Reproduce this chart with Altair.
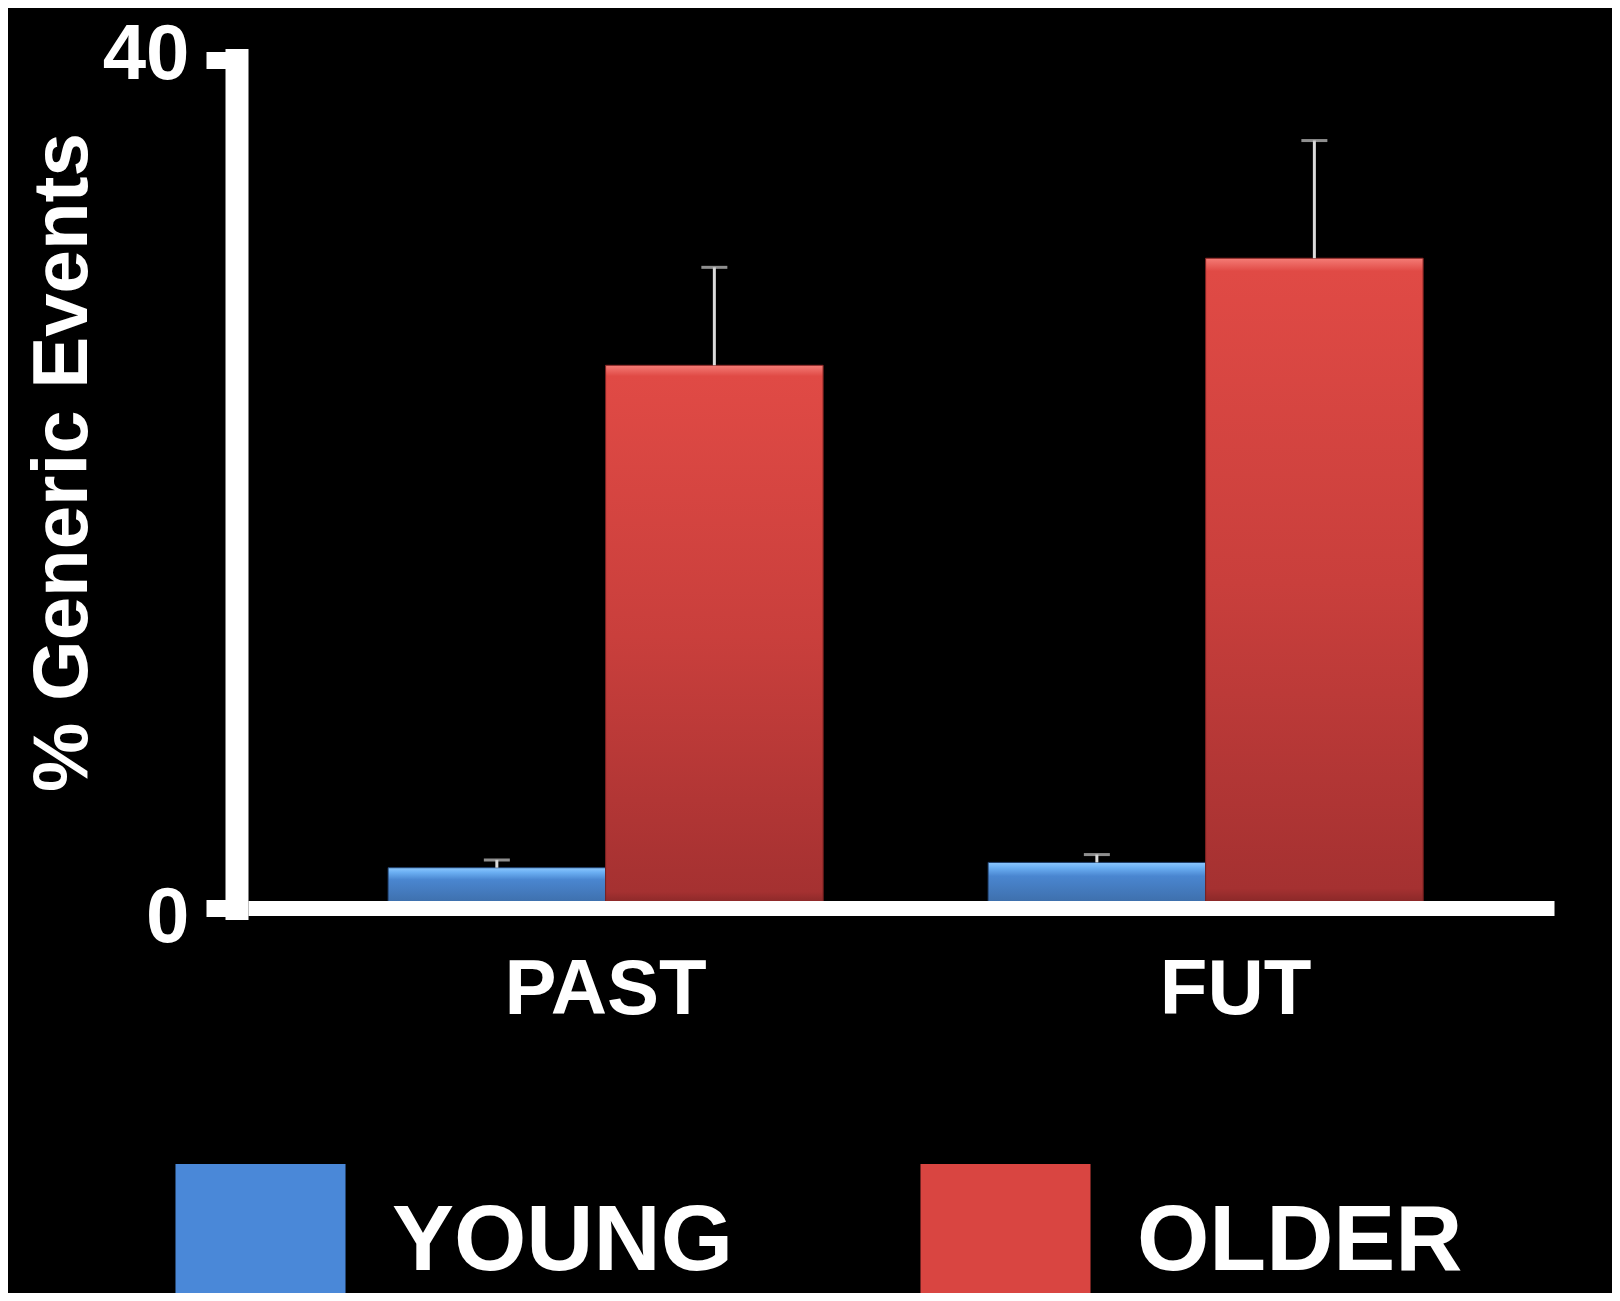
import altair as alt
import pandas as pd

# ---- data ----
periods = ["PAST", "PAST", "FUT", "FUT"]
ages = ["YOUNG", "OLDER", "YOUNG", "OLDER"]
means = [1.9, 25.6, 2.15, 30.65]
sems = [0.37, 4.62, 0.37, 5.55]
period_order = ["PAST", "FUT"]
age_order = ["YOUNG", "OLDER"]
y_ticks = [0, 40]

df = pd.DataFrame({"period": periods, "age": ages, "mean": means, "sem": sems})
df["upper"] = df["mean"] + df["sem"]

FONT = "Liberation Sans"

blue_grad = alt.Gradient(
    gradient="linear", x1=0, x2=0, y1=0, y2=1,
    stops=[alt.GradientStop(offset=0, color="#8cc8ff"),
           alt.GradientStop(offset=0.12, color="#6aaef2"),
           alt.GradientStop(offset=0.3, color="#4a86d0"),
           alt.GradientStop(offset=0.9, color="#3d6eaa"),
           alt.GradientStop(offset=1, color="#2c5283")])
red_grad = alt.Gradient(
    gradient="linear", x1=0, x2=0, y1=0, y2=1,
    stops=[alt.GradientStop(offset=0, color="#f47c76"),
           alt.GradientStop(offset=0.02, color="#e04a45"),
           alt.GradientStop(offset=0.5, color="#c93f3c"),
           alt.GradientStop(offset=0.97, color="#a53131"),
           alt.GradientStop(offset=1, color="#7e2424")])

x_enc = alt.X(
    "period:N", sort=period_order,
    scale=alt.Scale(paddingInner=0.275, paddingOuter=0.2258, align=0.517),
    axis=alt.Axis(
        title=None, ticks=False, tickSize=0, domain=True, domainColor="white",
        domainWidth=15, labelAngle=0, labelColor="white", labelFont=FONT,
        labelFontSize=78, labelFontWeight="bold", labelPadding=43,
        labelBaseline="top", labelLimit=2000, zindex=1,
        labelOffset={"condition": {"test": "datum.value == 'FUT'", "value": 30}, "value": 0},
    ),
)
xoff_enc = alt.XOffset("age:N", sort=age_order,
                       scale=alt.Scale(paddingInner=0, paddingOuter=0))
y_scale = alt.Scale(domain=[0, 40], nice=False)
y_enc = alt.Y(
    "mean:Q", scale=y_scale,
    axis=alt.Axis(
        values=y_ticks, grid=False, domainColor="white", domainWidth=23,
        domainCap="square", offset=11.5, tickColor="white", tickWidth=17,
        tickSize=30.5, labelColor="white", labelFont=FONT, labelFontSize=78,
        labelFontWeight="bold", labelPadding=17, labelBaseline="middle",
        labelLimit=2000, zindex=1,
        labelOffset={"condition": {"test": "datum.value > 20", "value": -4.5}, "value": 10.5},
        title="% Generic Events", titleColor="white", titleFont=FONT,
        titleFontSize=78, titleFontWeight="bold", titleAngle=270,
        titleAlign="center", titleBaseline="alphabetic", titleX=-150, titleY=402,
        titleLimit=2000,
    ),
)

legend = alt.Legend(
    orient="none", legendX=-65.5, legendY=1104, direction="horizontal",
    title=None, symbolType="M-1.09,-1H1.09V1H-1.09Z", symbolSize=24336,
    symbolStrokeWidth=0, symbolOpacity=1, labelFont=FONT, labelFontSize=93,
    labelFontWeight="bold", labelColor="white", labelOffset=53.5,
    columnPadding=186, padding=0, labelLimit=0, labelBaseline="middle",
)

base = alt.Chart(df)

bars = base.mark_bar().encode(
    x=x_enc, xOffset=xoff_enc, y=y_enc,
    color=alt.Color("age:N", sort=age_order,
                    scale=alt.Scale(domain=age_order, range=["#4a88d8", "#d94541"]),
                    legend=legend),
)

grad_bars = base.mark_bar(strokeWidth=1).encode(
    x=x_enc, xOffset=xoff_enc, y=alt.Y("mean:Q", scale=y_scale),
    fill=alt.condition("datum.age == 'YOUNG'", alt.value(blue_grad), alt.value(red_grad)),
    stroke=alt.condition("datum.age == 'YOUNG'", alt.value("#1d3a62"), alt.value("#7a2020")),
)

err = base.mark_rule(color="#dcdcdc", strokeWidth=3).encode(
    x=x_enc, xOffset=xoff_enc, y=alt.Y("mean:Q", scale=y_scale), y2="upper:Q",
)
caps = base.mark_tick(color="#cccccc", thickness=3, size=26).encode(
    x=x_enc, xOffset=xoff_enc, y=alt.Y("upper:Q", scale=y_scale),
)

chart = alt.layer(bars, grad_bars, err, caps).properties(
    width=1306, height=848,
    padding={"left": 240, "top": 52, "right": 58, "bottom": 385},
    autosize=alt.AutoSizeParams(type="none"),
).configure(background="black").configure_view(stroke=None)

chart.save("out.html", embed_options={"renderer": "svg", "actions": False})
